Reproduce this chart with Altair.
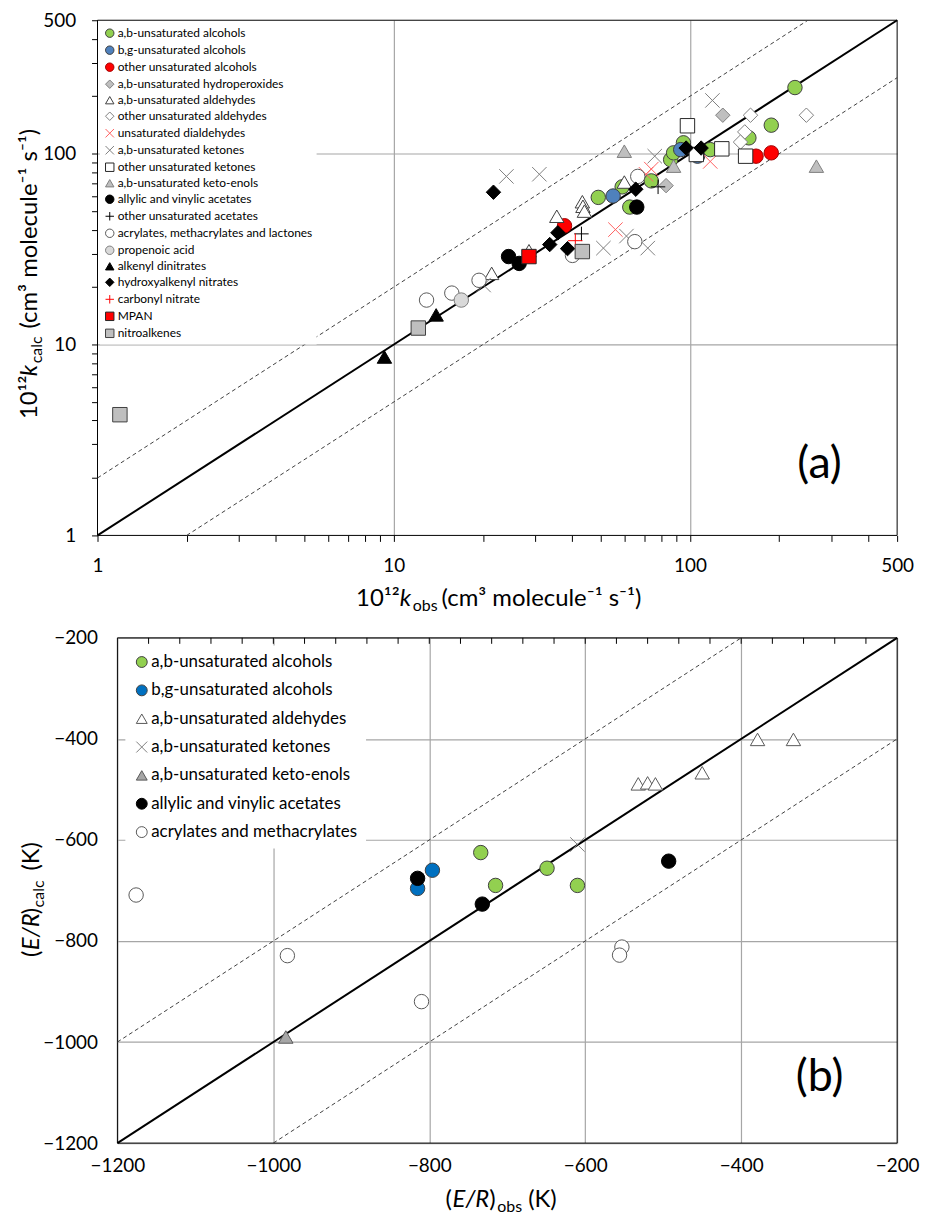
import altair as alt
import pandas as pd

FONT = "Lato"

# ---------------- Panel (a): 10^12 k_obs vs 10^12 k_calc ----------------
A_CATS = [
    "a,b-unsaturated alcohols", "b,g-unsaturated alcohols", "other unsaturated alcohols",
    "a,b-unsaturated hydroperoxides", "a,b-unsaturated aldehydes", "other unsaturated aldehydes",
    "unsaturated dialdehydes", "a,b-unsaturated ketones", "other unsaturated ketones",
    "a,b-unsaturated keto-enols", "allylic and vinylic acetates", "other unsaturated acetates",
    "acrylates, methacrylates and lactones", "propenoic acid", "alkenyl dinitrates",
    "hydroxyalkenyl nitrates", "carbonyl nitrate", "MPAN", "nitroalkenes",
]

ab_alc_obs = [49, 59, 62.6, 74, 86, 88, 95, 117, 158, 188, 226]
ab_alc_calc = [59, 67, 52.5, 72, 93, 101, 114, 105, 121, 141, 222]
bg_alc_obs = [55, 93, 106]
bg_alc_calc = [60, 105, 97]
oth_alc_obs = [37.7, 167, 188]
oth_alc_calc = [41.9, 97, 101]
hydroperox_obs = [83, 129]
hydroperox_calc = [68, 159]
ab_ald_obs = [21.4, 28.6, 35.5, 43.3, 43.5, 44, 60]
ab_ald_calc = [23.6, 31, 47, 56, 53, 50, 71]
oth_ald_obs = [160, 153, 148, 247]
oth_ald_calc = [159, 130, 115, 159]
diald_obs = [56, 74, 71, 117]
diald_calc = [40, 83, 78, 91]
ab_ket_obs = [24, 31, 20.1, 51, 61, 72, 76, 119]
ab_ket_calc = [76, 78, 20.5, 32, 37, 32, 97, 190]
oth_ket_obs = [98, 128, 154, 105]
oth_ket_calc = [140, 106, 97, 99]
ketoenol_obs = [60, 88, 267]
ketoenol_calc = [103, 86, 86]
allyl_ac_obs = [24.4, 26.5, 66.1]
allyl_ac_calc = [28.9, 26.6, 52.5]
oth_ac_obs = [43, 78]
oth_ac_calc = [38, 67]
acryl_obs = [12.9, 15.7, 19.4, 40.1, 65.1, 66.6]
acryl_calc = [17.1, 18.6, 21.7, 29.3, 34.6, 76]
propenoic_obs = [16.9]
propenoic_calc = [17.1]
dinitr_obs = [9.3, 13.9]
dinitr_calc = [8.6, 14.3]
hydroxnitr_obs = [21.7, 33.6, 35.8, 38.6, 65.6, 97, 109]
hydroxnitr_calc = [62.8, 33.4, 38.5, 31.8, 65.1, 107, 107]
carbnitr_obs = [41]
carbnitr_calc = [35]
mpan_obs = [28.6]
mpan_calc = [28.9]
nitroalk_obs = [1.19, 12.1, 43.3]
nitroalk_calc = [4.29, 12.2, 30.7]

A_SERIES = [
    (ab_alc_obs, ab_alc_calc), (bg_alc_obs, bg_alc_calc), (oth_alc_obs, oth_alc_calc),
    (hydroperox_obs, hydroperox_calc), (ab_ald_obs, ab_ald_calc), (oth_ald_obs, oth_ald_calc),
    (diald_obs, diald_calc), (ab_ket_obs, ab_ket_calc), (oth_ket_obs, oth_ket_calc),
    (ketoenol_obs, ketoenol_calc), (allyl_ac_obs, allyl_ac_calc), (oth_ac_obs, oth_ac_calc),
    (acryl_obs, acryl_calc), (propenoic_obs, propenoic_calc), (dinitr_obs, dinitr_calc),
    (hydroxnitr_obs, hydroxnitr_calc), (carbnitr_obs, carbnitr_calc), (mpan_obs, mpan_calc),
    (nitroalk_obs, nitroalk_calc),
]

XSHAPE = "M-1,-1L1,1M-1,1L1,-1"
PLUS = "M-1,0L1,0M0,-1L0,1"

A_SHAPES = ["circle", "circle", "circle", "diamond", "triangle-up", "diamond", XSHAPE, XSHAPE,
            "square", "triangle-up", "circle", PLUS, "circle", "circle", "triangle-up",
            "diamond", PLUS, "square", "square"]
A_FILLS = ["#92D050", "#4F81BD", "#FF0000", "#BFBFBF", "white", "white", "transparent",
           "transparent", "white", "#BFBFBF", "black", "transparent", "white", "#D9D9D9",
           "black", "black", "transparent", "#FF0000", "#BFBFBF"]
A_STROKES = ["#404040", "#404040", "#A00000", "#7F7F7F", "#404040", "#7F7F7F", "#FF6060",
             "#7F7F7F", "#262626", "#7F7F7F", "black", "black", "#595959", "#7F7F7F",
             "black", "black", "#FF0000", "#262626", "#404040"]

A_DOMAIN = [1, 500]
A_LOG_TICKS = [1, 2, 3, 4, 5, 6, 7, 8, 9, 10, 20, 30, 40, 50, 60, 70, 80, 90, 100, 200, 300, 400, 500]
A_LABELED = [1, 10, 100, 500]
A_GRID = [10, 100]
A_ONE_X = [1, 500]
A_ONE_Y = [1, 500]
A_UP_X = [1, 250]
A_UP_Y = [2, 500]
A_LO_X = [2, 500]
A_LO_Y = [1, 250]

# ---------------- Panel (b): (E/R)_obs vs (E/R)_calc ----------------
B_CATS = [
    "a,b-unsaturated alcohols", "b,g-unsaturated alcohols", "a,b-unsaturated aldehydes",
    "a,b-unsaturated ketones", "a,b-unsaturated keto-enols", "allylic and vinylic acetates",
    "acrylates and methacrylates",
]
b_ab_alc_obs = [-734, -715, -649, -610]
b_ab_alc_calc = [-625, -690, -656, -690]
b_bg_alc_obs = [-815, -796]
b_bg_alc_calc = [-696, -660]
b_ab_ald_obs = [-532, -520, -510, -450, -379, -333]
b_ab_ald_calc = [-489, -487, -489, -467, -401, -401]
b_ab_ket_obs = [-610]
b_ab_ket_calc = [-609]
b_ketoenol_obs = [-984]
b_ketoenol_calc = [-990]
b_allyl_ac_obs = [-815, -732, -493]
b_allyl_ac_calc = [-676, -727, -642]
b_acryl_obs = [-1176, -982, -810, -553, -556]
b_acryl_calc = [-709, -829, -920, -812, -828]

B_SERIES = [
    (b_ab_alc_obs, b_ab_alc_calc), (b_bg_alc_obs, b_bg_alc_calc), (b_ab_ald_obs, b_ab_ald_calc),
    (b_ab_ket_obs, b_ab_ket_calc), (b_ketoenol_obs, b_ketoenol_calc),
    (b_allyl_ac_obs, b_allyl_ac_calc), (b_acryl_obs, b_acryl_calc),
]
B_SHAPES = ["circle", "circle", "triangle-up", XSHAPE, "triangle-up", "circle", "circle"]
B_FILLS = ["#92D050", "#0070C0", "white", "transparent", "#A6A6A6", "black", "white"]
B_STROKES = ["#404040", "#404040", "#595959", "#7F7F7F", "#595959", "black", "#595959"]

B_DOMAIN = [-1200, -200]
B_TICKS = [-1200, -1000, -800, -600, -400, -200]
B_MINOR = [-1160, -1120, -1080, -1040, -1000, -960, -920, -880, -840, -800, -760, -720,
           -680, -640, -600, -560, -520, -480, -440, -400, -360, -320, -280, -240]
B_ONE_X = [-1200, -200]
B_ONE_Y = [-1200, -200]
B_UP_X = [-1200, -400]
B_UP_Y = [-1000, -200]
B_LO_X = [-1000, -200]
B_LO_Y = [-1200, -400]

# ---------------- layout constants ----------------
W = 804
HA = 518
HB = 508
B_LEFT = 20
ORIG_A = (97, 22)
ORIG_B = (97, 636)
ONE = pd.DataFrame({"z": [0]})
TFS = 24   # axis title font size
SFS = 16   # subscript font size


def points_df(cats, series):
    rows = []
    for cat, (xs, ys) in zip(cats, series):
        for x, y in zip(xs, ys):
            rows.append({"cat": cat, "xo": x, "yc": y})
    return pd.DataFrame(rows)


def piece(text, sx, sy, origin, size=TFS, italic=False, angle=0):
    ox, oy = origin
    kw = dict(text=text, font=FONT, fontSize=size, align="left", baseline="alphabetic",
              color="black")
    if italic:
        kw["fontStyle"] = "italic"
    if angle:
        kw["angle"] = angle
    return alt.Chart(ONE).mark_text(**kw).encode(x=alt.value(sx - ox), y=alt.value(sy - oy))


def line_layer(xs, ys, sx, sy, ax, ay, dashed):
    df = pd.DataFrame({"lx": xs, "ly": ys})
    if dashed:
        m = alt.Chart(df).mark_line(color="#404040", strokeWidth=1, strokeDash=[4, 3])
    else:
        m = alt.Chart(df).mark_line(color="black", strokeWidth=2)
    return m.encode(x=alt.X("lx:Q", scale=sx, axis=ax), y=alt.Y("ly:Q", scale=sy, axis=ay))


# ---------------- Panel (a) ----------------
SX_A = alt.Scale(type="log", domain=A_DOMAIN, nice=False)
SY_A = alt.Scale(type="log", domain=A_DOMAIN, nice=False)
lab_a = "indexof(%s, datum.value) >= 0 ? format(datum.value, 'd') : ''" % str(A_LABELED)
grid_a = {"condition": {"test": "indexof(%s, datum.value) >= 0" % str(A_GRID), "value": 1},
          "value": 0}
AX_XA = alt.Axis(title=None, values=A_LOG_TICKS, labelExpr=lab_a, grid=True,
                 gridColor="#A6A6A6", gridWidth=1.2, gridOpacity=grid_a, domain=False,
                 tickColor="black", tickSize=6, labelFont=FONT, labelFontSize=19,
                 labelColor="black", labelPadding=15, labelOverlap=False, labelFlush=False)
AX_YA = alt.Axis(title=None, values=A_LOG_TICKS, labelExpr=lab_a, grid=True,
                 gridColor="#A6A6A6", gridWidth=1.2, gridOpacity=grid_a, domain=False,
                 tickColor="black", tickSize=6, labelFont=FONT, labelFontSize=19,
                 labelColor="black", labelPadding=16, labelOverlap=False, labelFlush=False)

leg_a = alt.Legend(title=None, orient="none", legendX=2.3, legendY=3, fillColor="white",
                   padding=4, labelFont=FONT, labelFontSize=12, labelColor="black",
                   symbolSize=72, symbolStrokeWidth=1, rowPadding=3.1, labelOffset=2,
                   labelLimit=400, symbolLimit=40)

pts_a = alt.Chart(points_df(A_CATS, A_SERIES)).mark_point(
    filled=True, size=210, strokeWidth=1, opacity=1
).encode(
    x=alt.X("xo:Q", scale=SX_A, axis=AX_XA),
    y=alt.Y("yc:Q", scale=SY_A, axis=AX_YA),
    fill=alt.Fill("cat:N", scale=alt.Scale(domain=A_CATS, range=A_FILLS), legend=leg_a),
    stroke=alt.Stroke("cat:N", scale=alt.Scale(domain=A_CATS, range=A_STROKES), legend=leg_a),
    shape=alt.Shape("cat:N", scale=alt.Scale(domain=A_CATS, range=A_SHAPES), legend=leg_a),
)

border_a = alt.Chart(pd.DataFrame({"x0": [A_DOMAIN[0]], "x1": [A_DOMAIN[1]],
                                   "y0": [A_DOMAIN[0]], "y1": [A_DOMAIN[1]]})).mark_rect(
    fill="transparent", stroke="black", strokeWidth=1
).encode(x=alt.X("x0:Q", scale=SX_A, axis=AX_XA), x2="x1:Q",
         y=alt.Y("y0:Q", scale=SY_A, axis=AX_YA), y2="y1:Q")

texts_a = [
    piece("10\u00b9\u00b2", 357, 611, ORIG_A),
    piece("k", 401, 611, ORIG_A, italic=True),
    piece("obs", 414, 616, ORIG_A, size=SFS),
    piece("(cm\u00b3 molecule\u207b\u00b9 s\u207b\u00b9)", 443, 611, ORIG_A),
    piece("10\u00b9\u00b2", 36, 423, ORIG_A, angle=270),
    piece("k", 36, 380, ORIG_A, italic=True, angle=270),
    piece("calc", 41, 367, ORIG_A, size=SFS, angle=270),
    piece("(cm\u00b3 molecule\u207b\u00b9 s\u207b\u00b9)", 36, 332, ORIG_A, angle=270),
    alt.Chart(ONE).mark_text(text="(a)", font=FONT, fontSize=45, align="center",
                             baseline="middle", color="black").encode(
        x=alt.value(823 - ORIG_A[0]), y=alt.value(468 - ORIG_A[1])),
]

panel_a = alt.layer(
    border_a,
    line_layer(A_UP_X, A_UP_Y, SX_A, SY_A, AX_XA, AX_YA, True),
    line_layer(A_LO_X, A_LO_Y, SX_A, SY_A, AX_XA, AX_YA, True),
    line_layer(A_ONE_X, A_ONE_Y, SX_A, SY_A, AX_XA, AX_YA, False),
    pts_a,
    *texts_a,
).properties(width=W, height=HA)

# ---------------- Panel (b) ----------------
SX_B = alt.Scale(domain=B_DOMAIN, range=[B_LEFT, W], nice=False, zero=False)
SY_B = alt.Scale(domain=B_DOMAIN, nice=False, zero=False)
AX_XB = alt.Axis(title=None, values=B_TICKS, grid=True, gridColor="#A6A6A6", gridWidth=1.2,
                 domain=False, ticks=False, labelFont=FONT, labelFontSize=19,
                 labelColor="black", labelPadding=14, labelOverlap=False, labelFlush=False,
                 format="d")
AX_YB = alt.Axis(title=None, values=B_TICKS, grid=True, gridColor="#A6A6A6", gridWidth=1.2,
                 domain=False, ticks=False, labelFont=FONT, labelFontSize=19,
                 labelColor="black", labelPadding=20, labelOverlap=False, labelFlush=False,
                 offset=-B_LEFT, format="d")

leg_b = alt.Legend(title=None, orient="none", legendX=28, legendY=7.8, fillColor="white",
                   padding=8, labelFont=FONT, labelFontSize=17, labelColor="black",
                   symbolSize=120, symbolStrokeWidth=1, rowPadding=10.5, labelOffset=1,
                   labelLimit=400)

pts_b = alt.Chart(points_df(B_CATS, B_SERIES)).mark_point(
    filled=True, size=210, strokeWidth=1, opacity=1
).encode(
    x=alt.X("xo:Q", scale=SX_B, axis=AX_XB),
    y=alt.Y("yc:Q", scale=SY_B, axis=AX_YB),
    fill=alt.Fill("cat:N", scale=alt.Scale(domain=B_CATS, range=B_FILLS), legend=leg_b),
    stroke=alt.Stroke("cat:N", scale=alt.Scale(domain=B_CATS, range=B_STROKES), legend=leg_b),
    shape=alt.Shape("cat:N", scale=alt.Scale(domain=B_CATS, range=B_SHAPES), legend=leg_b),
)

border_b = alt.Chart(pd.DataFrame({"x0": [B_DOMAIN[0]], "x1": [B_DOMAIN[1]],
                                   "y0": [B_DOMAIN[0]], "y1": [B_DOMAIN[1]]})).mark_rect(
    fill="transparent", stroke="black", strokeWidth=1
).encode(x=alt.X("x0:Q", scale=SX_B, axis=AX_XB), x2="x1:Q",
         y=alt.Y("y0:Q", scale=SY_B, axis=AX_YB), y2="y1:Q")

minor_b = alt.Chart(pd.DataFrame({"mt": B_MINOR})).mark_rule(color="black", strokeWidth=1).encode(
    x=alt.X("mt:Q", scale=SX_B, axis=AX_XB), y=alt.value(0), y2=alt.value(6))

texts_b = [
    piece("(", 447, 1208, ORIG_B),
    piece("E/R", 454, 1208, ORIG_B, italic=True),
    piece(")", 491, 1208, ORIG_B),
    piece("obs", 499, 1213, ORIG_B, size=SFS),
    piece("(K)", 530, 1208, ORIG_B),
    piece("(", 38, 957, ORIG_B, angle=270),
    piece("E/R", 38, 950, ORIG_B, italic=True, angle=270),
    piece(")", 38, 914, ORIG_B, angle=270),
    piece("calc", 43, 907, ORIG_B, size=SFS, angle=270),
    piece("(K)", 38, 870, ORIG_B, angle=270),
    alt.Chart(ONE).mark_text(text="(b)", font=FONT, fontSize=45, align="center",
                             baseline="middle", color="black").encode(
        x=alt.value(823 - ORIG_B[0]), y=alt.value(1078 - ORIG_B[1])),
]

panel_b = alt.layer(
    border_b,
    minor_b,
    line_layer(B_UP_X, B_UP_Y, SX_B, SY_B, AX_XB, AX_YB, True),
    line_layer(B_LO_X, B_LO_Y, SX_B, SY_B, AX_XB, AX_YB, True),
    line_layer(B_ONE_X, B_ONE_Y, SX_B, SY_B, AX_XB, AX_YB, False),
    pts_b,
    *texts_b,
).properties(width=W, height=HB)

chart = alt.vconcat(panel_a, panel_b, spacing=13).resolve_scale(
    x="independent", y="independent", fill="independent", stroke="independent",
    shape="independent"
).resolve_legend(fill="independent", stroke="independent", shape="independent").properties(
    padding={"left": 9, "top": -1, "right": 0, "bottom": -5}
).configure_view(stroke="transparent")

chart.save("out.html", embed_options={"renderer": "svg", "actions": False})
